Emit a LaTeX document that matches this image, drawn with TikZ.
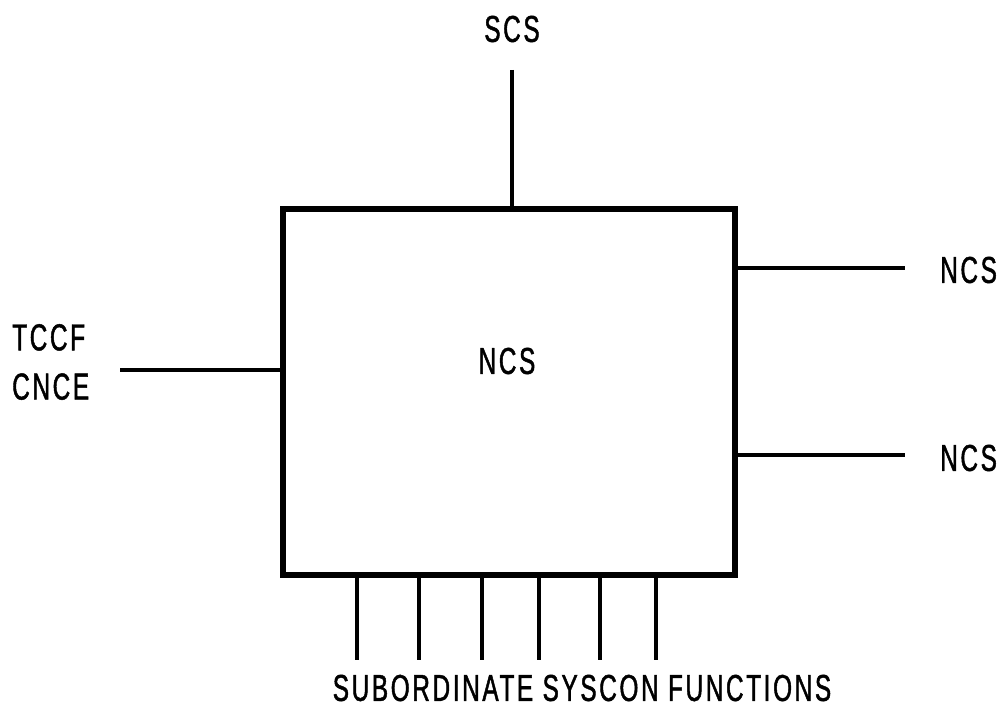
\documentclass[tikz,border=0pt]{standalone}
\usepackage{fontspec}
\setmainfont{Liberation Sans}[FakeStretch=0.65, LetterSpace=7, FakeBold=1.2]
\usetikzlibrary{positioning}
\tikzset{
  lbl/.style={font=\fontsize{32}{42}\selectfont, inner sep=0pt},
  conn/.style={black, line width=2.6pt},
  frame/.style={draw=black, line width=5pt, minimum width=13.56cm, minimum height=10.98cm}
}

\begin{document}
\begin{tikzpicture}[x=0.03cm,y=-0.03cm]
  \useasboundingbox (0,0) rectangle (997,707);
  % main box
  \node [frame, lbl] (ncs) at (509,392) {};
  \node [lbl] (ncstext) at (507,361) {NCS};
  % labels
  \node [lbl] (scs) at (512,29) {SCS};
  \node [lbl, align=left, anchor=west] (tccf) at (12,362) {TCCF\\CNCE};
  \node [lbl, anchor=west] (ncsa) at (940,270) {NCS};
  \node [lbl, anchor=west] (ncsb) at (940,458) {NCS};
  \node [lbl] (sub) at (582,688) {SUBORDINATE SYSCON FUNCTIONS};
  % free ends
  \coordinate (scsend) at (512,70);
  \coordinate (leftend) at (120,370);
  \coordinate (ncsaend) at (905,268);
  \coordinate (ncsbend) at (905,455);
  % connectors
  \draw [conn] (scsend) -- (scsend |- ncs.north);
  \draw [conn] (leftend) -- (leftend -| ncs.west);
  \draw [conn] (ncsaend -| ncs.east) -- (ncsaend);
  \draw [conn] (ncsbend -| ncs.east) -- (ncsbend);
  \foreach \x [count=\i] in {357,419,482,539,600,656} {
    \coordinate (sub\i) at (\x,660);
    \draw [conn] (sub\i |- ncs.south) -- (sub\i);
  }
\end{tikzpicture}
\end{document}
